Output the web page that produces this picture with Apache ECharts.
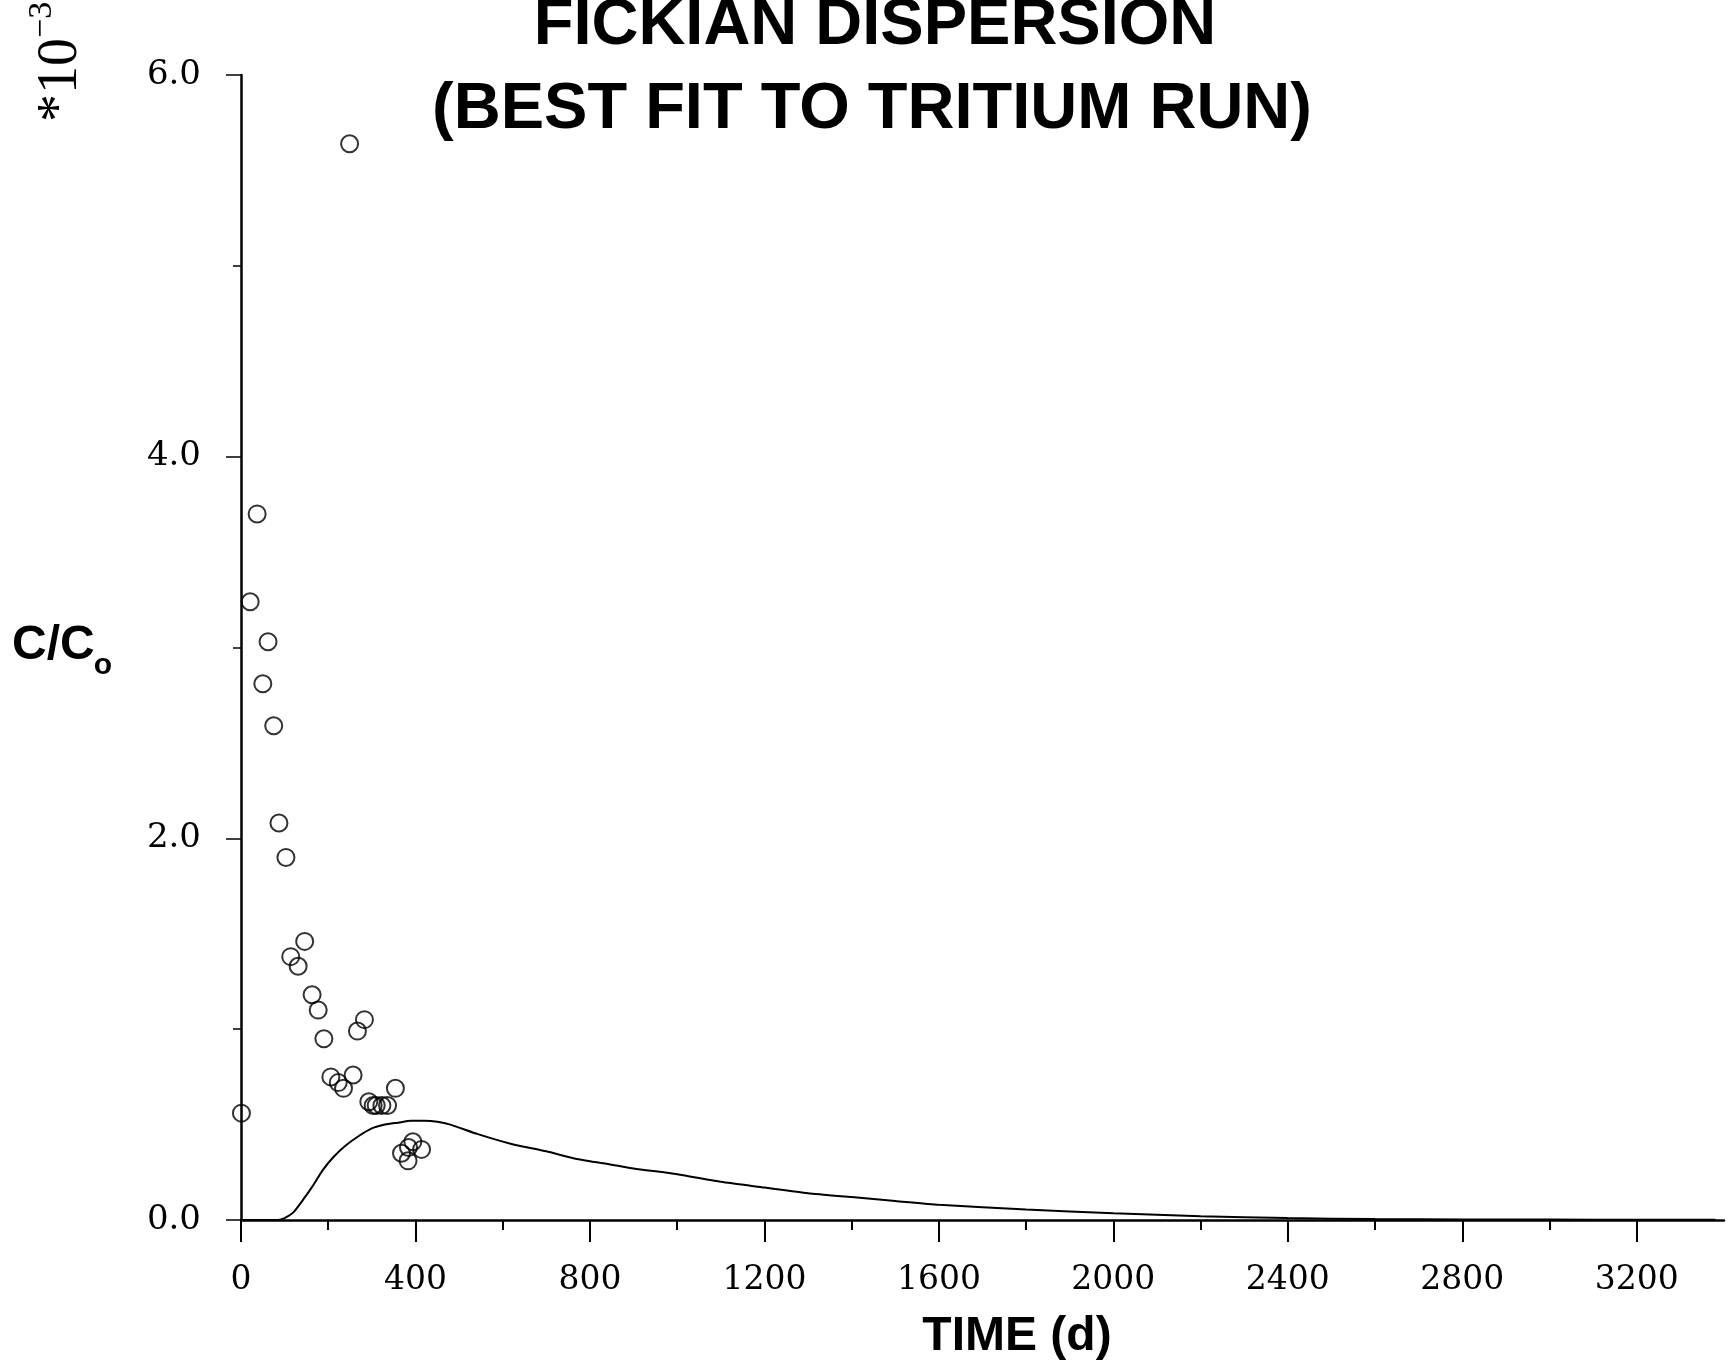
<!DOCTYPE html>
<html>
<head>
<meta charset="utf-8">
<script src="https://cdn.jsdelivr.net/npm/echarts@6/dist/echarts.min.js"></script>
<style>
html,body{margin:0;padding:0;background:#fff;}
#chart{width:1733px;height:1366px;}
</style>
</head>
<body>
<div id="chart"></div>
<script>
// Observed tracer data (C/Co in units of 1e-3) vs time (days)
const obsDays = [249, 37, 21, 62, 50, 75, 87, 103, 146, 114, 131, 163, 177, 190, 283, 267, 206, 223, 235, 257, 293, 303, 310, 323, 336, 354, 394, 368, 383, 414, 384, 1];
const obsConc = [5.64, 3.70, 3.24, 3.03, 2.81, 2.59, 2.08, 1.90, 1.46, 1.38, 1.33, 1.18, 1.10, 0.95, 1.05, 0.99, 0.75, 0.72, 0.69, 0.76, 0.62, 0.60, 0.60, 0.60, 0.60, 0.69, 0.41, 0.35, 0.31, 0.37, 0.38, 0.56];

// Fickian dispersion best-fit curve
const fitDays = [0, 60, 85, 100, 120, 142, 165, 187, 212, 240, 270, 300, 330, 360, 390, 420, 450, 480, 543, 618, 700, 770, 850, 900, 1000, 1100, 1200, 1300, 1400, 1500, 1600, 1800, 2000, 2200, 2400, 2600, 2800, 3000, 3200, 3380];
const fitConc = [0, 0, 0, 0.01, 0.04, 0.105, 0.18, 0.26, 0.33, 0.39, 0.44, 0.48, 0.50, 0.51, 0.52, 0.52, 0.515, 0.50, 0.45, 0.40, 0.36, 0.32, 0.29, 0.27, 0.24, 0.20, 0.17, 0.14, 0.12, 0.10, 0.08, 0.055, 0.035, 0.02, 0.01, 0.005, 0.003, 0.002, 0.001, 0.001];

// Axis ticks
const xMajorTicks = [0, 400, 800, 1200, 1600, 2000, 2400, 2800, 3200];
const xMinorTicks = [200, 600, 1000, 1400, 1800, 2200, 2600, 3000];

const chart = echarts.init(document.getElementById('chart'));

const serif = '"DejaVu Serif", "Liberation Serif", serif';
const serif2 = '"Liberation Serif", serif';
const sans = '"Liberation Sans", Arial, sans-serif';

const option = {
  backgroundColor: '#fff',
  animation: false,
  grid: {left: 241, right: 9, top: 75, bottom: 146},
  xAxis: [{
    type: 'value', min: 0, max: 3400, position: 'bottom',
    axisLine: {show: true, lineStyle: {color: '#000', width: 2.5}},
    axisTick: {show: true, inside: false, length: 22, customValues: xMajorTicks, lineStyle: {color: '#000', width: 2}},
    axisLabel: {show: true, customValues: xMajorTicks, margin: 44, color: '#000', fontFamily: serif, fontSize: 33,
      formatter: v => String(v)},
    splitLine: {show: false}
  }, {
    type: 'value', min: 0, max: 3400, position: 'bottom',
    axisLine: {show: false},
    axisTick: {show: true, inside: false, length: 10, customValues: xMinorTicks, lineStyle: {color: '#000', width: 2}},
    axisLabel: {show: false},
    splitLine: {show: false}
  }],
  yAxis: {
    type: 'value', min: 0, max: 6, interval: 2,
    axisLine: {show: true, lineStyle: {color: '#000', width: 2.5}},
    axisTick: {show: true, length: 15, lineStyle: {color: '#000', width: 1.5}},
    minorTick: {show: true, splitNumber: 2, length: 8, lineStyle: {color: '#000', width: 1.5}},
    axisLabel: {margin: 40, color: '#000', fontFamily: serif, fontSize: 34,
      formatter: v => v.toFixed(1)},
    splitLine: {show: false},
    minorSplitLine: {show: false}
  },
  series: [{
    type: 'line',
    xAxisIndex: 0,
    data: fitDays.map((d, i) => [d, fitConc[i]]),
    smooth: 0.2,
    showSymbol: false,
    symbol: 'none',
    lineStyle: {color: '#000', width: 2}
  }, {
    type: 'scatter',
    xAxisIndex: 0,
    data: obsDays.map((d, i) => [d, obsConc[i]]),
    symbol: 'circle',
    symbolSize: 17,
    itemStyle: {color: 'rgba(0,0,0,0)', borderColor: '#000', borderWidth: 2},
    clip: false
  }],
  graphic: [
    {type: 'text', x: 875, y: 26, style: {text: 'FICKIAN DISPERSION', font: 'bold 65px ' + sans, fill: '#000', textAlign: 'center', textVerticalAlign: 'middle'}},
    {type: 'text', x: 872, y: 110, style: {text: '(BEST FIT TO TRITIUM RUN)', font: 'bold 65px ' + sans, fill: '#000', textAlign: 'center', textVerticalAlign: 'middle'}},
    {type: 'text', x: 1017, y: 1337, style: {text: 'TIME (d)', font: 'bold 48px ' + sans, fill: '#000', textAlign: 'center', textVerticalAlign: 'middle'}},
    {type: 'text', x: 12, y: 646, style: {text: 'C/C', font: 'bold 48px ' + sans, fill: '#000', textAlign: 'left', textVerticalAlign: 'middle'}},
    {type: 'text', x: 103, y: 666, style: {text: 'o', font: 'bold 30px ' + sans, fill: '#000', textAlign: 'center', textVerticalAlign: 'middle'}},
    {type: 'text', x: 61, y: 122, rotation: Math.PI / 2, style: {text: '*10', font: '56px ' + serif2, fill: '#000', textAlign: 'left', textVerticalAlign: 'middle'}},
    {type: 'text', x: 42, y: 38, rotation: Math.PI / 2, style: {text: '\u22123', font: '34px ' + serif2, fill: '#000', textAlign: 'left', textVerticalAlign: 'middle'}}
  ]
};
chart.setOption(option);
</script>
</body>
</html>
